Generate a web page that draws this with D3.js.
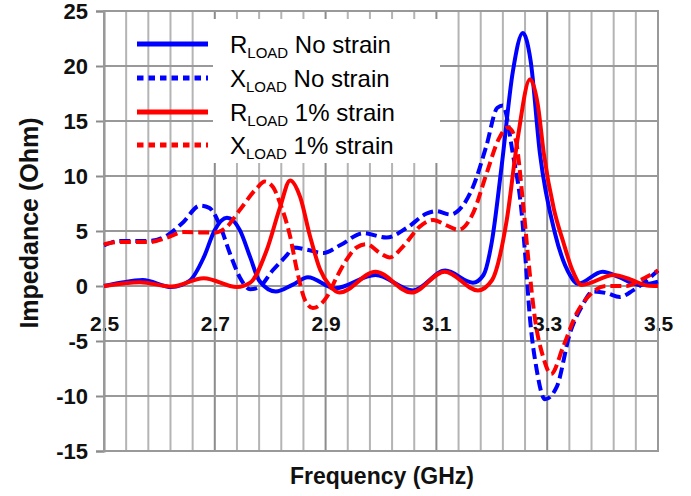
<!DOCTYPE html>
<html><head><meta charset="utf-8">
<script src="https://cdn.jsdelivr.net/npm/d3@7"></script>
<style>body{margin:0;background:#fff}svg{display:block}</style>
</head><body>
<svg id="chart" width="691" height="496"></svg>
<script>
// ---- data ----
const xTickValues = [2.5, 2.7, 2.9, 3.1, 3.3, 3.5];
const yTickValues = [-15, -10, -5, 0, 5, 10, 15, 20, 25];

const rNoStrainF = [2.50,2.53,2.57,2.622,2.655,2.68,2.70,2.722,2.745,2.764,2.78,2.81,2.84,2.868,2.917,2.99,3.058,3.116,3.166,3.185,3.20,3.218,3.238,3.256,3.27,3.287,3.314,3.341,3.355,3.40,3.43,3.465,3.50];
const rNoStrainV = [0,0.3,0.55,-0.1,0.5,2.6,5.1,6.2,5.1,2.6,0.5,-0.5,0.1,0.8,-0.2,1.0,-0.4,1.4,0.3,1.0,4.0,11,19.5,23,20.5,12,4.8,1.0,0.2,1.3,0.8,0.1,0.4];

const xNoStrainF = [2.50,2.529,2.583,2.614,2.643,2.673,2.69,2.71,2.727,2.745,2.764,2.78,2.805,2.83,2.842,2.866,2.896,2.926,2.968,3.01,3.047,3.083,3.10,3.125,3.146,3.166,3.19,3.21,3.22,3.238,3.254,3.26,3.269,3.281,3.296,3.317,3.341,3.362,3.383,3.407,3.431,3.455,3.50];
const xNoStrainV = [3.7,4.1,4.1,4.6,5.8,7.3,7.1,5.4,3.0,0.8,-0.3,-0.1,1.45,2.8,3.5,3.3,3.0,3.7,4.8,4.4,5.3,6.6,6.8,6.5,7.2,9.0,12.7,16.2,16.4,12,6.6,3,-3,-7.6,-10.3,-9.2,-4.3,-1.9,-0.5,-0.65,-1.0,-0.4,1.4];

const rStrainF = [2.50,2.565,2.622,2.68,2.74,2.764,2.794,2.818,2.836,2.854,2.872,2.89,2.908,2.925,2.99,3.055,3.115,3.175,3.20,3.227,3.247,3.269,3.283,3.294,3.312,3.329,3.345,3.362,3.42,3.45,3.48,3.50];
const rStrainV = [0,0.35,-0.05,0.7,-0.1,0.3,3.3,7.2,9.6,8.1,4.5,1.5,0,-0.6,1.3,-0.6,1.3,-0.4,0.5,6,13.5,18.8,16.5,12,7,4,1.5,0.1,1.0,0.6,0.05,0];

const xStrainF = [2.50,2.529,2.583,2.614,2.643,2.70,2.72,2.745,2.776,2.79,2.805,2.818,2.836,2.848,2.863,2.877,2.902,2.92,2.938,2.956,2.974,2.998,3.016,3.04,3.07,3.094,3.119,3.14,3.166,3.191,3.212,3.229,3.242,3.257,3.266,3.278,3.293,3.307,3.329,3.353,3.377,3.407,3.443,3.467,3.50];
const xStrainV = [3.8,4.0,4.0,4.4,4.9,4.85,5.3,6.9,8.9,9.5,9.0,7.5,4.5,1.5,-1.3,-2.0,-1.0,0.8,2.4,3.5,3.8,3.0,2.6,3.6,5.4,6.0,5.5,5.1,6.6,10.3,13.3,14.4,13.5,7.2,2.4,-3,-6.5,-8.0,-5.5,-2.5,-0.8,0,0,0.5,1.4];

const seriesNames = ["No strain", "No strain", "1% strain", "1% strain"];
const seriesSymbols = ["R", "X", "R", "X"];
const seriesColors = ["#0000ff", "#0000ff", "#ff0000", "#ff0000"];
const seriesDashed = [false, true, false, true];
const seriesF = [rNoStrainF, xNoStrainF, rStrainF, xStrainF];
const seriesV = [rNoStrainV, xNoStrainV, rStrainV, xStrainV];

// ---- drawing ----
const svg = d3.select("#chart");
const x = d3.scaleLinear().domain([2.5, 3.5]).range([104, 658]);
const y = d3.scaleLinear().domain([-15, 25]).range([451, 11]);
const FONT = "'Liberation Sans', Arial, sans-serif";

// vertical grid lines every 0.04 GHz
const vgrid = d3.range(0, 26).map(i => 2.5 + i * 0.04);
svg.append("g").selectAll("line").data(vgrid).join("line")
  .attr("x1", d => x(d)).attr("x2", d => x(d))
  .attr("y1", y(25)).attr("y2", y(-15))
  .attr("stroke", (d, i) => i % 5 === 0 ? "#8c8c8c" : "#b4b4b4")
  .attr("stroke-width", 2);

// horizontal grid lines
svg.append("g").selectAll("line").data(yTickValues).join("line")
  .attr("x1", x(2.5)).attr("x2", x(3.5))
  .attr("y1", d => y(d)).attr("y2", d => y(d))
  .attr("stroke", "#999").attr("stroke-width", 2);

// y axis with ticks on the left
const yAxis = d3.axisLeft(y).tickValues(yTickValues).tickSize(8).tickPadding(8).tickFormat(d => String(d));
const gy = svg.append("g").attr("transform", `translate(${x(2.5)},0)`).call(yAxis);
gy.select(".domain").attr("stroke", "#8c8c8c").attr("stroke-width", 2);
gy.selectAll(".tick line").attr("stroke", "#8c8c8c").attr("stroke-width", 2);
gy.selectAll(".tick text").attr("font-family", FONT)
  .attr("font-weight", "bold").attr("font-size", 22).attr("fill", "#111").attr("x", -16);

// x tick labels placed under the zero line
const xAxis = d3.axisBottom(x).tickValues(xTickValues).tickSize(0).tickPadding(0).tickFormat(d3.format(".1f"));
const gx = svg.append("g").attr("transform", `translate(0,${y(0)})`).call(xAxis);
gx.select(".domain").remove();
gx.selectAll(".tick text").attr("font-family", FONT)
  .attr("font-weight", "bold").attr("font-size", 21).attr("fill", "#111")
  .attr("dy", null).attr("y", 45);

// plot border
svg.append("rect").attr("x", x(2.5)).attr("y", y(25))
  .attr("width", x(3.5) - x(2.5)).attr("height", y(-15) - y(25))
  .attr("fill", "none").attr("stroke", "#999").attr("stroke-width", 2);

// legend white box (covers grid behind text)
svg.append("rect").attr("x", 213).attr("y", 19).attr("width", 227).attr("height", 144).attr("fill", "#fff");

// series lines
const line = d3.line().x(d => x(d[0])).y(d => y(d[1])).curve(d3.curveMonotoneX);
seriesF.forEach((fs, i) => {
  const pts = fs.map((f, j) => [f, seriesV[i][j]]);
  svg.append("path").datum(pts).attr("d", line)
    .attr("fill", "none").attr("stroke", seriesColors[i]).attr("stroke-width", 4)
    .attr("stroke-dasharray", seriesDashed[i] ? "11,5" : null)
    .attr("stroke-linejoin", "round");
});

// legend
const legBase = [53, 87, 121, 154];
const lg = svg.append("g");
seriesNames.forEach((name, i) => {
  lg.append("line").attr("x1", 137).attr("x2", 208)
    .attr("y1", legBase[i] - 9).attr("y2", legBase[i] - 9)
    .attr("stroke", seriesColors[i]).attr("stroke-width", 5)
    .attr("stroke-dasharray", seriesDashed[i] ? "6.5,5" : null);
  const t = lg.append("text").attr("x", 230).attr("y", legBase[i])
    .attr("font-family", FONT).attr("font-size", 24).attr("fill", "#000");
  t.append("tspan").text(seriesSymbols[i]);
  t.append("tspan").attr("font-size", 15).attr("dy", 5).text("LOAD");
  t.append("tspan").attr("dy", -5).text(" " + name);
});

// axis titles
svg.append("text").attr("x", 382).attr("y", 484).attr("text-anchor", "middle")
  .attr("font-family", FONT).attr("font-weight", "bold")
  .attr("font-size", 23).attr("fill", "#111").text("Frequency (GHz)");
svg.append("text").attr("transform", "translate(38,223) rotate(-90)").attr("text-anchor", "middle")
  .attr("font-family", FONT).attr("font-weight", "bold")
  .attr("font-size", 25).attr("fill", "#111").text("Impedance (Ohm)");
</script>
</body></html>
